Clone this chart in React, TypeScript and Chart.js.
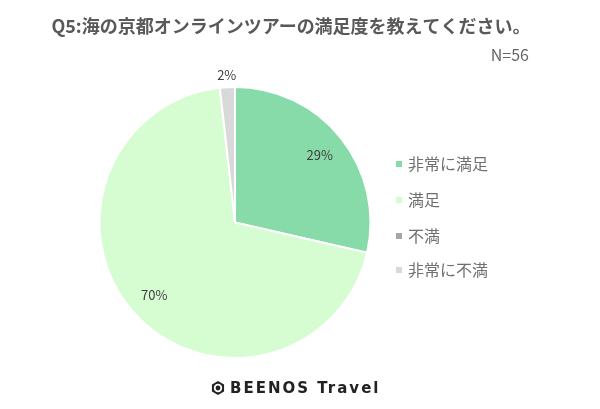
import React, { useEffect, useRef } from "react";
import { Chart, registerables } from "chart.js";

Chart.register(...registerables);

const categories = ["非常に満足", "満足", "不満", "非常に不満"];
const counts = [16, 39, 0, 1];
const percentLabels = ["29%", "70%", "", "2%"];
const colors = ["#86dba8", "#d6fcd2", "#a6a6a6", "#d9d9d9"];
const titleText = "Q5:海の京都オンラインツアーの満足度を教えてください。";
const nText = "N=56";
const footerText = "BEENOS Travel";

const FONT = "'Noto Sans CJK JP', 'Noto Sans', sans-serif";

const overlay = {
  id: "overlay",
  afterDatasetsDraw(chart: any) {
    const ctx = chart.ctx;
    const meta = chart.getDatasetMeta(0);
    ctx.save();
    // slice labels
    ctx.font = `13px ${FONT}`;
    ctx.fillStyle = "#404040";
    ctx.textAlign = "center";
    ctx.textBaseline = "middle";
    meta.data.forEach((arc: any, i: number) => {
      const t = percentLabels[i];
      if (!t) return;
      const { x, y, startAngle, endAngle, outerRadius } = arc.getProps(
        ["x", "y", "startAngle", "endAngle", "outerRadius"],
        true
      );
      const mid = (startAngle + endAngle) / 2;
      const frac = counts[i] / counts.reduce((a, b) => a + b, 0);
      const r = frac < 0.05 ? outerRadius + 12 : outerRadius * 0.8;
      ctx.fillText(t, x + Math.cos(mid) * r, y + Math.sin(mid) * r);
    });
    // title
    ctx.font = `bold 18px ${FONT}`;
    ctx.fillStyle = "#595959";
    ctx.fillText(titleText, 291, 26);
    ctx.font = `16px ${FONT}`;
    ctx.textAlign = "right";
    ctx.fillStyle = "#666666";
    ctx.fillText(nText, 529, 55);
    // legend
    const rows = [164, 200, 236, 270];
    ctx.textAlign = "left";
    categories.forEach((c, i) => {
      ctx.fillStyle = colors[i];
      ctx.fillRect(396, rows[i] - 3, 6, 6);
      ctx.fillStyle = "#6f6f6f";
      ctx.font = `16px ${FONT}`;
      ctx.fillText(c, 408, rows[i]);
    });
    // footer logo
    const cx = 218, cy = 388, hr = 7;
    ctx.beginPath();
    for (let k = 0; k < 6; k++) {
      const a = Math.PI / 6 + (k * Math.PI) / 3;
      const px = cx + Math.cos(a) * hr, py = cy + Math.sin(a) * hr;
      if (k === 0) ctx.moveTo(px, py); else ctx.lineTo(px, py);
    }
    ctx.closePath();
    ctx.fillStyle = "#222";
    ctx.fill();
    ctx.beginPath();
    ctx.arc(cx, cy, 4.2, 0, Math.PI * 2);
    ctx.fillStyle = "#fff";
    ctx.fill();
    ctx.beginPath();
    ctx.arc(cx, cy, 2.4, 0, Math.PI * 2);
    ctx.fillStyle = "#222";
    ctx.fill();
    ctx.fillStyle = "#222";
    ctx.font = `600 15px 'DejaVu Sans', sans-serif`;
    (ctx as any).letterSpacing = "2px";
    ctx.fillText(footerText, 230, cy + 1);
    ctx.restore();
  },
};

export default function App() {
  const ref = useRef<HTMLCanvasElement>(null);
  useEffect(() => {
    if (!ref.current) return;
    const chart = new Chart(ref.current, {
      type: "pie",
      data: {
        labels: categories,
        datasets: [
          {
            data: counts,
            backgroundColor: colors,
            borderColor: "#ffffff",
            borderWidth: 2,
          },
        ],
      },
      options: {
        responsive: false,
        animation: false,
        layout: { padding: { left: 98, right: 228, top: 86, bottom: 50 } },
        plugins: {
          legend: { display: false },
          tooltip: { enabled: false },
          title: { display: false },
        },
      },
      plugins: [overlay],
    });
    return () => chart.destroy();
  }, []);
  return (
    <div style={{ position: "fixed", left: 0, top: 0, width: 600, height: 409, background: "#fff" }}>
      <canvas ref={ref} width={600} height={409} />
    </div>
  );
}
